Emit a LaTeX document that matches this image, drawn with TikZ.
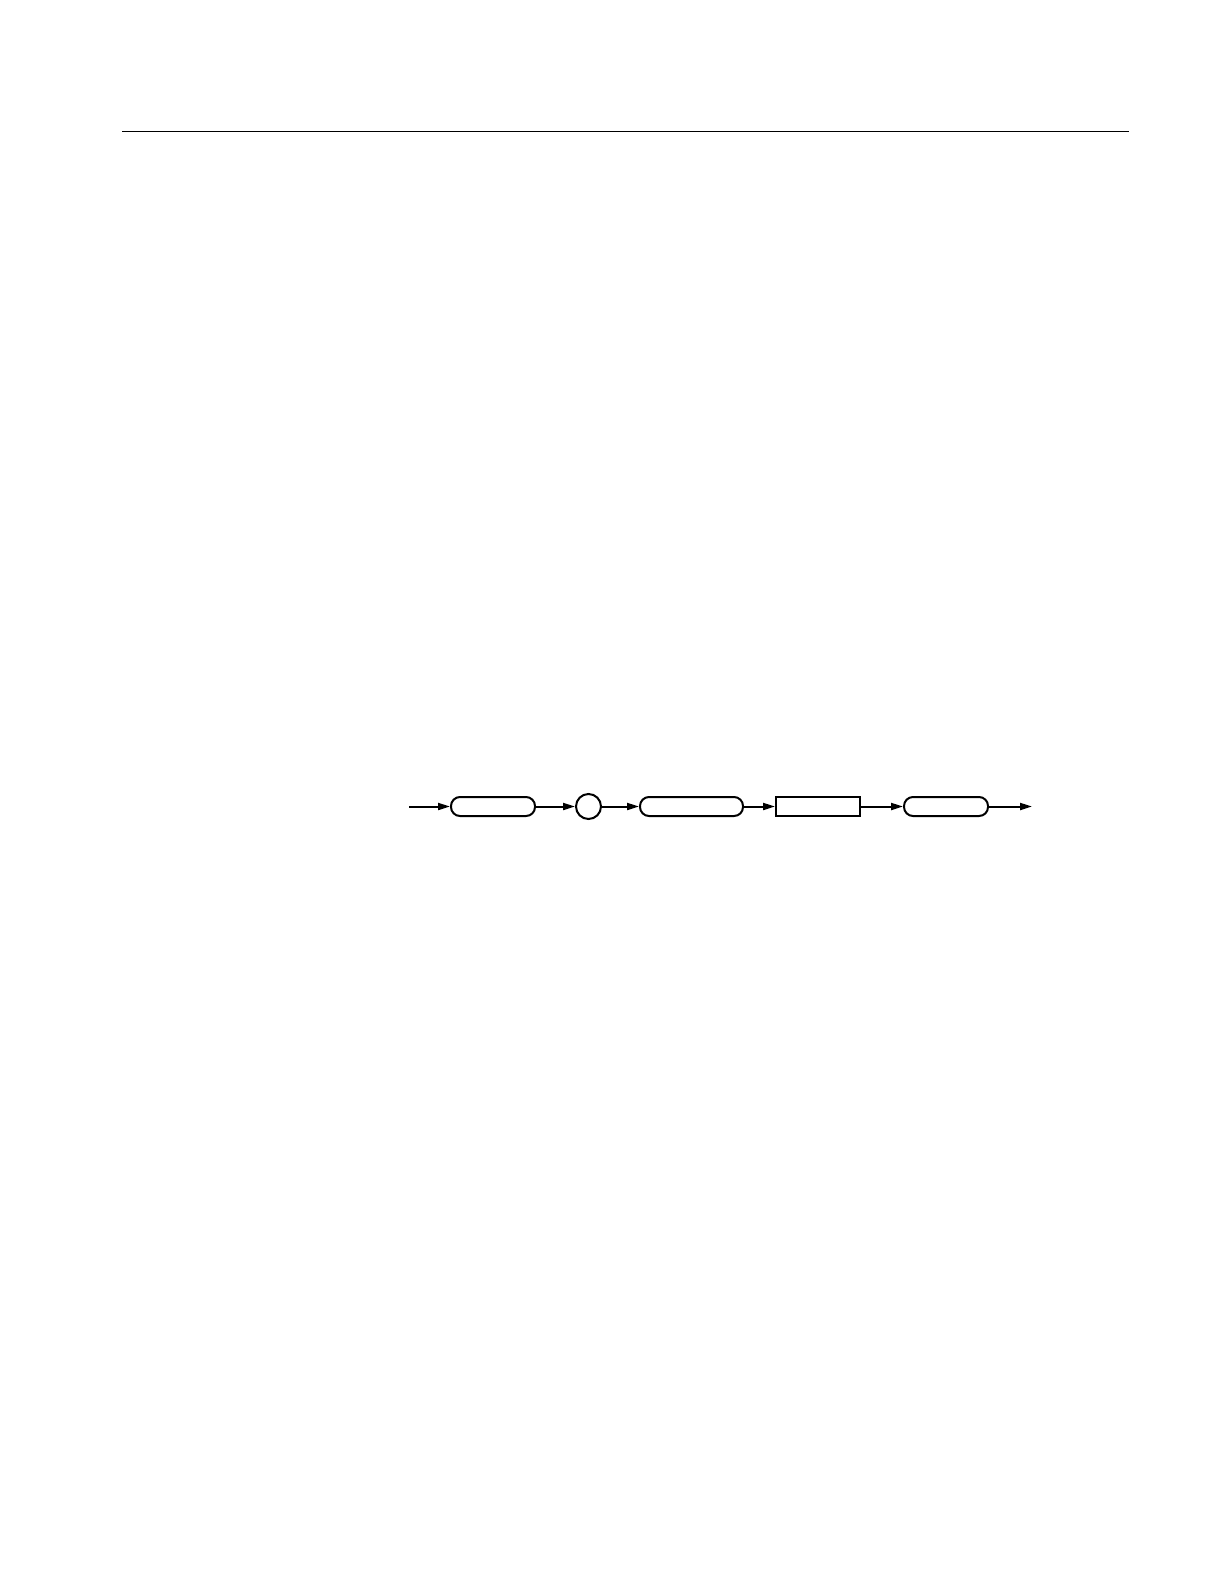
\documentclass[tikz,border=0pt]{standalone}
\usepackage{tikz}
\usetikzlibrary{positioning}
\usetikzlibrary{arrows.meta}
\tikzset {
  node distance={19.5bp},
  >={Triangle[length=6bp,width=3.5bp]},
  % rounded box
  term/.style = {draw, rounded corners=4.5bp, minimum width=42bp, minimum height=9.5bp, inner sep=0pt, line width=1bp},
  % square box
  nonterm/.style = {draw, rectangle, minimum width=42bp, minimum height=9.5bp, inner sep=0pt, line width=1bp},
  % small circle
  sym/.style = {draw, circle, minimum size=12.5bp, inner sep=0pt, line width=1bp},
  % connectors
  flow/.style = {->, line width=1bp},
}

\begin{document}
\begin{tikzpicture}[x=0.5bp, y=-0.5bp]
        \useasboundingbox (0,0) rectangle (1224,1584);
        \draw[line width=0.65bp] (122,131.7) -- (1129,131.7);

        \coordinate (in) at (409,806.5);
        \node[term, right=20.5bp of in] (1) {};
        \node[sym, right=19.5bp of 1] (2) {};
        \node[term, minimum width=51.5bp, right=18.5bp of 2] (3) {};
        \node[nonterm, right=15.5bp of 3] (4) {};
        \node[term, minimum width=42bp, right=21bp of 4] (5) {};
        \coordinate[right=21.5bp of 5] (out);

        \draw [flow] (in) -- (1);
        \draw [flow] (1) -- (2);
        \draw [flow] (2) -- (3);
        \draw [flow] (3) -- (4);
        \draw [flow] (4) -- (5);
        \draw [flow] (5) -- (out);
      \end{tikzpicture}
\end{document}
